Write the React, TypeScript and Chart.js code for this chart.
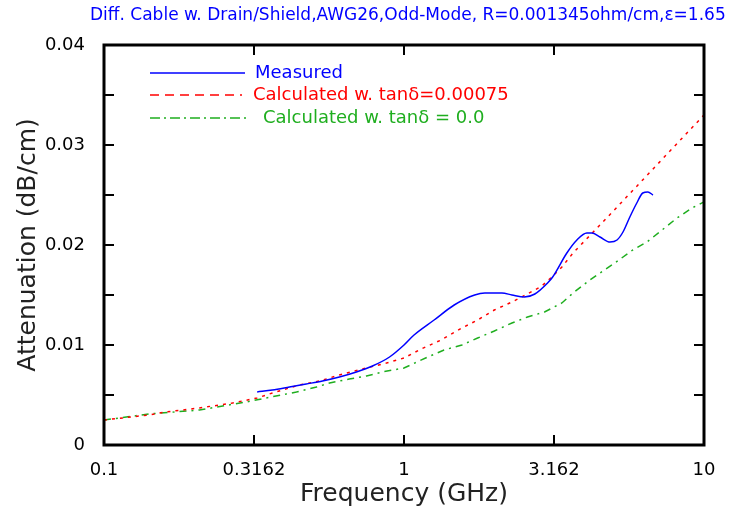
import React, { useEffect, useRef } from "react";
import { Chart, registerables } from "chart.js";

Chart.register(...registerables);

const titleText =
  "Diff. Cable w. Drain/Shield,AWG26,Odd-Mode, R=0.001345ohm/cm,\u03B5=1.65";
const xAxisTitle = "Frequency (GHz)";
const yAxisTitle = "Attenuation (dB/cm)";

const xTickValues = [0.1, 0.3162, 1, 3.162, 10];
const xTickLabels = ["0.1", "0.3162", "1", "3.162", "10"];
const yTickValues = [0, 0.01, 0.02, 0.03, 0.04];
const yTickLabels = ["0", "0.01", "0.02", "0.03", "0.04"];
const yFrameTickValues = [0.005, 0.01, 0.015, 0.02, 0.025, 0.03, 0.035];
const xFrameTickValues = [0.3162, 1, 3.162];

const seriesNames = [
  "Measured",
  "Calculated w. tan\u03B4=0.00075",
  "Calculated w. tan\u03B4 = 0.0",
];
const seriesColors = ["#0000ff", "#ff0000", "#1fae1f"];

const measuredFreq = [
  0.324, 0.364, 0.415, 0.472, 0.535, 0.609, 0.694, 0.785, 0.895, 1.0, 1.08,
  1.26, 1.47, 1.72, 1.86, 2.12, 2.29, 2.52, 2.73, 3.01, 3.13, 3.49, 3.77, 4.07,
  4.23, 4.5, 4.86, 5.13, 5.37, 5.66, 5.97, 6.25, 6.5, 6.76,
];
const measuredAtt = [
  0.0053, 0.0055, 0.0058, 0.0061, 0.0064, 0.0068, 0.0073, 0.0079, 0.0088,
  0.01, 0.011, 0.0125, 0.014, 0.015, 0.0152, 0.0152, 0.015, 0.0148, 0.0151,
  0.0162, 0.0168, 0.0192, 0.0205, 0.0212, 0.0212, 0.0208, 0.0203, 0.0205,
  0.0213, 0.0228, 0.0242, 0.0252, 0.0253, 0.025,
];

const lossFreq = [
  0.1, 0.141, 0.16, 0.208, 0.268, 0.324, 0.364, 0.448, 0.523, 0.609, 0.75,
  0.874, 1.0, 1.14, 1.33, 1.56, 1.76, 2.0, 2.29, 2.58, 2.88, 3.11, 3.36, 3.66,
  4.74, 6.11, 7.87, 10,
];
const lossAtt = [
  0.0025, 0.003, 0.0033, 0.0037, 0.0042, 0.0047, 0.0052, 0.006, 0.0064, 0.007,
  0.0077, 0.0082, 0.0087, 0.0096, 0.0105, 0.0117, 0.0125, 0.0135, 0.0143,
  0.0151, 0.0159, 0.0168, 0.0178, 0.0192, 0.0227, 0.0262, 0.0297, 0.033,
];

const losslessFreq = [
  0.1, 0.141, 0.208, 0.298, 0.347, 0.438, 0.511, 0.565, 0.657, 0.75, 0.846,
  1.0, 1.2, 1.36, 1.56, 1.76, 2.0, 2.29, 2.58, 2.94, 3.36, 3.66, 4.16, 5.04,
  5.79, 6.45, 7.25, 8.13, 9.12, 10,
];
const losslessAtt = [
  0.0025, 0.0031, 0.0035, 0.0043, 0.0047, 0.0053, 0.0058, 0.0062, 0.0066,
  0.0069, 0.0073, 0.0077, 0.0088, 0.0095, 0.01, 0.0107, 0.0114, 0.0122,
  0.0128, 0.0133, 0.0142, 0.0152, 0.0165, 0.0182, 0.0195, 0.0203, 0.0215,
  0.0227, 0.0237, 0.0243,
];

const FONT = '"DejaVu Sans", sans-serif';

const toPoints = (xs: number[], ys: number[]) =>
  xs.map((x, i) => ({ x, y: ys[i] }));

const decorPlugin = {
  id: "decor",
  afterDraw(chart: any) {
    const { ctx, chartArea: a, scales } = chart;
    const xs = scales.x;
    const ys = scales.y;
    ctx.save();
    ctx.strokeStyle = "#000";
    ctx.lineWidth = 2;
    const tl = 10;
    const seg = (x1: number, y1: number, x2: number, y2: number) => {
      ctx.beginPath();
      ctx.moveTo(x1, y1);
      ctx.lineTo(x2, y2);
      ctx.stroke();
    };
    yFrameTickValues.forEach((v) => {
      const py = Math.round(ys.getPixelForValue(v));
      seg(a.left, py, a.left + tl, py);
      seg(a.right, py, a.right - tl, py);
    });
    xFrameTickValues.forEach((v) => {
      const px = Math.round(xs.getPixelForValue(v));
      seg(px, a.bottom, px, a.bottom - tl);
      seg(px, a.top, px, a.top + tl);
    });
    ctx.lineWidth = 3;
    ctx.strokeRect(a.left, a.top, a.right - a.left, a.bottom - a.top);

    // title
    ctx.fillStyle = "#0000ff";
    ctx.font = `17px ${FONT}`;
    ctx.textAlign = "left";
    ctx.textBaseline = "alphabetic";
    ctx.fillText(titleText, 90, 20);

    // legend
    const rows = [
      { y: 73, x1: 150, x2: 245, tx: 255, dash: [] as number[] },
      { y: 95, x1: 150, x2: 242, tx: 253, dash: [9, 6] },
      { y: 118, x1: 150, x2: 249, tx: 263, dash: [10, 4, 2, 4] },
    ];
    ctx.font = `18px ${FONT}`;
    ctx.textBaseline = "middle";
    rows.forEach((r, i) => {
      ctx.strokeStyle = seriesColors[i];
      ctx.lineWidth = 1.5;
      ctx.setLineDash(r.dash);
      seg(r.x1, r.y, r.x2, r.y);
      ctx.setLineDash([]);
      ctx.fillStyle = seriesColors[i];
      ctx.fillText(seriesNames[i], r.tx, r.y);
    });
    ctx.restore();
  },
};

export default function App() {
  const canvasRef = useRef<HTMLCanvasElement | null>(null);

  useEffect(() => {
    const canvas = canvasRef.current;
    if (!canvas) return;
    const chart = new Chart(canvas, {
      type: "line",
      data: {
        datasets: [
          {
            label: seriesNames[0],
            data: toPoints(measuredFreq, measuredAtt),
            borderColor: seriesColors[0],
            borderWidth: 1.5,
            pointRadius: 0,
            fill: false,
            cubicInterpolationMode: "monotone",
          },
          {
            label: seriesNames[1],
            data: toPoints(lossFreq, lossAtt),
            borderColor: seriesColors[1],
            borderWidth: 1.5,
            borderDash: [3, 5],
            pointRadius: 0,
            fill: false,
            tension: 0,
          },
          {
            label: seriesNames[2],
            data: toPoints(losslessFreq, losslessAtt),
            borderColor: seriesColors[2],
            borderWidth: 1.5,
            borderDash: [7, 5, 2, 5],
            pointRadius: 0,
            fill: false,
            tension: 0,
          },
        ],
      },
      options: {
        responsive: false,
        animation: false,
        events: [],
        layout: { padding: { top: 45, right: 40, bottom: 0, left: 0 } },
        plugins: {
          legend: { display: false },
          title: { display: false },
          tooltip: { enabled: false },
        },
        scales: {
          x: {
            type: "logarithmic",
            min: 0.1,
            max: 10,
            grid: { display: false },
            border: { display: false },
            afterBuildTicks: (scale: any) => {
              scale.ticks = xTickValues.map((v) => ({ value: v }));
            },
            afterFit: (scale: any) => {
              scale.height = 69;
            },
            ticks: {
              autoSkip: false,
              maxRotation: 0,
              minRotation: 0,
              padding: 7,
              color: "#000",
              font: { family: FONT, size: 18 },
              callback: (_v: any, i: number) => xTickLabels[i],
            },
            title: {
              display: true,
              text: xAxisTitle,
              color: "#222",
              font: { family: FONT, size: 25 },
              padding: { top: 0, bottom: 5 },
            },
          },
          y: {
            type: "linear",
            min: 0,
            max: 0.04,
            grid: { display: false },
            border: { display: false },
            afterBuildTicks: (scale: any) => {
              scale.ticks = yTickValues.map((v) => ({ value: v }));
            },
            afterFit: (scale: any) => {
              scale.width = 104;
            },
            ticks: {
              padding: 11,
              color: "#000",
              font: { family: FONT, size: 18 },
              callback: (_v: any, i: number) => yTickLabels[i],
            },
            title: {
              display: true,
              text: yAxisTitle,
              color: "#222",
              font: { family: FONT, size: 25 },
              padding: { top: 13, bottom: 0 },
            },
          },
        },
      },
      plugins: [decorPlugin],
    } as any);
    return () => chart.destroy();
  }, []);

  return (
    <div
      style={{
        position: "absolute",
        left: 0,
        top: 0,
        width: 744,
        height: 514,
        background: "#fff",
      }}
    >
      <canvas
        ref={canvasRef}
        width={744}
        height={514}
        style={{ display: "block", width: 744, height: 514 }}
      />
    </div>
  );
}
